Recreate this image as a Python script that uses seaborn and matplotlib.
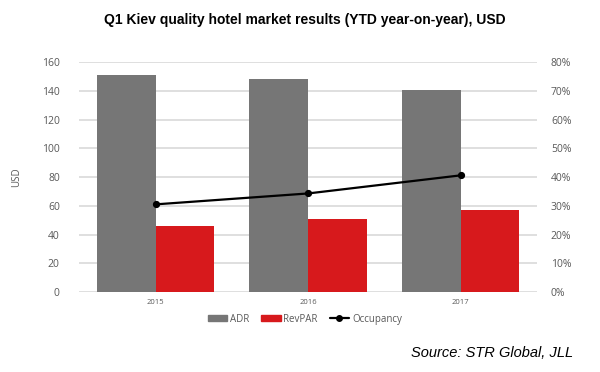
import pandas as pd
import seaborn as sns
import matplotlib.pyplot as plt
from matplotlib.lines import Line2D
from matplotlib.patches import Patch
from matplotlib.ticker import PercentFormatter

# Data
years = ['2015', '2016', '2017']
adr = [151, 148, 140.5]
revpar = [46, 50.5, 57]
occupancy = [30.5, 34.3, 40.6]

grey = '#767676'
red = '#d7191c'
tick_color = '#595959'

df = pd.DataFrame({
    'year': years * 2,
    'value': adr + revpar,
    'metric': ['ADR'] * 3 + ['RevPAR'] * 3,
})

sns.set_style('white')
plt.rcParams['font.family'] = ['Open Sans', 'DejaVu Sans']

fig = plt.figure(figsize=(6, 3.72), dpi=100)
ax = fig.add_axes([0.132, 0.215, 0.763, 0.618])

sns.barplot(data=df, x='year', y='value', hue='metric', palette=[grey, red],
            width=0.77, saturation=1, linewidth=0, ax=ax, legend=False)
ax.set_ylim(0, 160)
ax.set_xlim(-0.5, 2.5)
ax.set_yticks(range(0, 161, 20))
ax.yaxis.grid(True, color='#d9d9d9', linewidth=1.2)
ax.set_axisbelow(True)
ax.set_xlabel('')
ax.set_ylabel('USD', fontsize=7, color=tick_color, labelpad=14)
ax.tick_params(axis='y', labelsize=7.5, colors=tick_color, length=0, pad=14)
ax.tick_params(axis='x', labelsize=5.5, colors=tick_color, length=0, pad=5)
sns.despine(ax=ax, left=True, right=True, top=True, bottom=True)

ax2 = ax.twinx()
sns.pointplot(x=years, y=occupancy, color='black', markers='o', markersize=4,
              linewidth=1.6, ax=ax2)
ax2.set_ylim(0, 80)
ax2.set_yticks(range(0, 81, 10))
ax2.yaxis.set_major_formatter(PercentFormatter(decimals=0))
ax2.tick_params(axis='y', labelsize=7.5, colors=tick_color, length=0, pad=10)
ax2.set_ylabel('')
for s in ax2.spines.values():
    s.set_visible(False)

handles = [
    Patch(color=grey, label='ADR'),
    Patch(color=red, label='RevPAR'),
    Line2D([0], [0], color='black', marker='o', markersize=4, linewidth=1.6, label='Occupancy'),
]
fig.legend(handles=handles, loc='center', bbox_to_anchor=(0.508, 0.142), ncol=3,
           frameon=False, fontsize=7, labelcolor=tick_color, handlelength=2,
           handleheight=0.6, columnspacing=1.2, handletextpad=0.3)

fig.text(0.508, 0.945, 'Q1 Kiev quality hotel market results (YTD year-on-year), USD',
         ha='center', va='center', fontsize=10, fontweight='bold', color='black',
         family='Liberation Sans')
fig.text(0.955, 0.05, 'Source: STR Global, JLL', ha='right', va='center',
         fontsize=10.5, style='italic', color='black', family='Liberation Sans')

plt.savefig('out.png', dpi=100)
plt.close()
